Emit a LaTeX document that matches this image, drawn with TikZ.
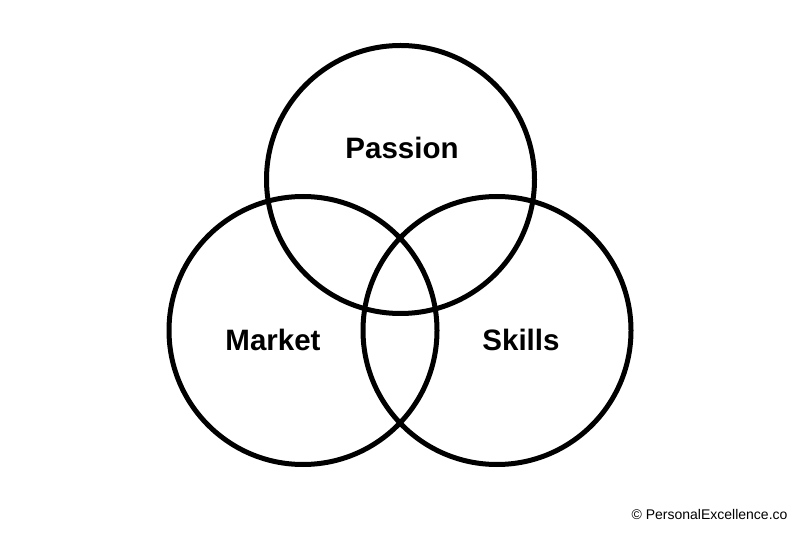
\documentclass[tikz,border=0pt]{standalone}
\usepackage{fontspec}
\setmainfont{Liberation Sans}
\begin{document}
\begin{tikzpicture}[x=1pt,y=1pt,
  venn/.style={draw=black,line width=5pt,circle,minimum size=268pt,inner sep=0pt},
  lbl/.style={font=\fontsize{29.5}{32}\selectfont\bfseries},
  copy/.style={font=\fontsize{14}{16}\selectfont}]
\useasboundingbox[fill=white] (0,0) rectangle (800,533);
\node[venn] (passion) at (400.5,353.5) {};
\node[venn] (market) at (303,202.5) {};
\node[venn] (skills) at (497,202.5) {};
\node[lbl] (tp) at (402,385) {Passion};
\node[lbl] (tm) at (273,193) {Market};
\node[lbl] (ts) at (521,193) {Skills};
\node[copy,anchor=east] (cr) at (791,19) {© PersonalExcellence.co};
\end{tikzpicture}
\end{document}
